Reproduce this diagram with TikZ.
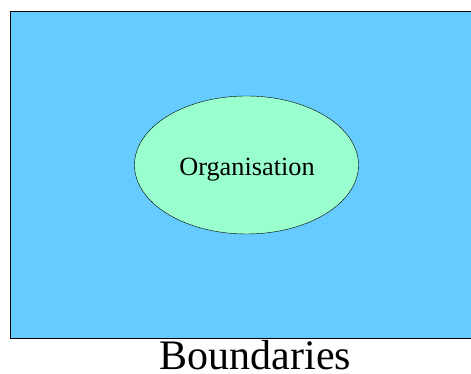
\documentclass[tikz,border=0pt]{standalone}
\usepackage{fontspec}
\setmainfont{Liberation Serif}
\usetikzlibrary{shapes.geometric}

\definecolor{outerblue}{HTML}{66CCFF}
\definecolor{innergreen}{HTML}{99FFCC}

\begin{document}
\begin{tikzpicture}[
x=1pt, y=1pt,
area/.style={draw, fill=outerblue, line width=0.9pt},
orgshape/.style={ellipse, draw, fill=innergreen, minimum width=224pt, minimum height=138pt, inner sep=0pt},
caption/.style={font=\fontsize{42}{50}\selectfont, anchor=base, inner sep=0pt}
]
\useasboundingbox (0,0) rectangle (471,374);
\filldraw[area] (10,36) rectangle (475,363);
\node[orgshape] (org) at (246.5,209) {};
\node[font=\fontsize{26.3}{31}\selectfont, anchor=base] (orgtext) at (247,198.3) {Organisation};
\node[caption] (label) at (255.5,4.3) {Boundaries};
\end{tikzpicture}
\end{document}
